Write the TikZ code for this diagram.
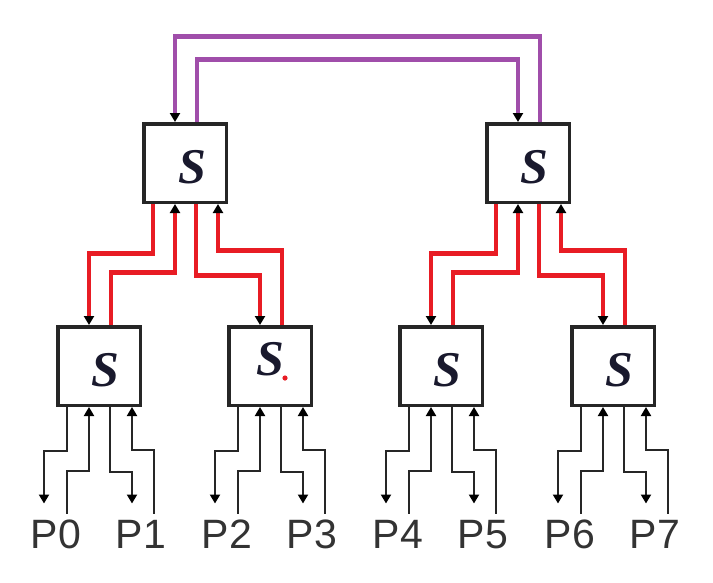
\documentclass[tikz,border=0pt]{standalone}
\usepackage{fontspec}
\setmainfont{Liberation Serif}
\newfontfamily\labelfont{Liberation Sans}
\usetikzlibrary{arrows.meta,calc}
\definecolor{wred}{RGB}{232,28,36}
\definecolor{wpurple}{RGB}{160,78,170}
\definecolor{sink}{RGB}{25,25,45}
\begin{document}
\begin{tikzpicture}[x=1pt,y=-1pt,
  sbox/.style={draw=black!85,line width=3.5pt,fill=white,minimum width=82.5pt,minimum height=78.5pt,inner sep=0pt},
  sletter/.style={font=\fontsize{50}{50}\selectfont\bfseries\itshape,text=sink,inner sep=0pt},
  plabel/.style={font=\labelfont\fontsize{41}{41}\selectfont,text=black!80,anchor=base,inner sep=0pt},
  tip/.style={-{Triangle[length=9pt,width=10pt,color=black]}},
  bwire/.style={draw=black!85,line width=2pt,line join=miter},
  rwire/.style={draw=wred,line width=4.2pt,line join=miter},
  pwire/.style={draw=wpurple,line width=4.2pt,line join=miter},
]
\useasboundingbox[fill=white] (0,0) rectangle (713,582);

% boxes
\node[sbox] (TL) at (185,163) {};
\node[sbox] (TR) at (528,163) {};
\node[sbox] (B1) at (99,366) {};
\node[sbox] (B2) at (270,366) {};
\node[sbox] (B3) at (441,366) {};
\node[sbox] (B4) at (613,366) {};

\node[sletter] (TLs) at ($(TL)+(7,4)$) {S};
\node[sletter] (TRs) at ($(TR)+(6,4)$) {S};
\node[sletter] (B1s) at ($(B1)+(6,4)$) {S};
\node[sletter] (B2s) at ($(B2)+(0,-7)$) {S};
\node[sletter] (B3s) at ($(B3)+(6,4)$) {S};
\node[sletter] (B4s) at ($(B4)+(6,4)$) {S};
\fill[wred] (285,378) circle (2.6pt);

% purple links between the top switches
\draw[pwire,tip] ($(TR.north)+(12,0)$) -- ++(0,-85.5) -| ($(TL.north)+(-10,0)$);
\draw[pwire,tip] ($(TL.north)+(12,0)$) -- ++(0,-62.5) -| ($(TR.north)+(-10,0)$);

% red links top -> bottom
\foreach \t/\l/\r in {TL/B1/B2, TR/B3/B4}{
  \draw[rwire,tip] ($(\t.south)+(-32,0)$) -- ++(0,49.5) -| ($(\l.north)+(-10,0)$);
  \draw[rwire,tip] ($(\l.north)+(12,0)$) -- ++(0,-52.5) -| ($(\t.south)+(-10,0)$);
  \draw[rwire,tip] ($(\t.south)+(11,0)$) -- ++(0,71.5) -| ($(\r.north)+(-10,0)$);
  \draw[rwire,tip] ($(\r.north)+(12,0)$) -- ++(0,-74.5) -| ($(\t.south)+(33,0)$);
}

% processors
\foreach \b/\e/\o in {B1/P0/P1, B2/P2/P3, B3/P4/P5, B4/P6/P7}{
  \coordinate (\e a) at ($(\b.south)+(-55,96.5)$);
  \coordinate (\e b) at ($(\b.south)+(-32,106.5)$);
  \coordinate (\o a) at ($(\b.south)+(33,96.5)$);
  \coordinate (\o b) at ($(\b.south)+(55,106.5)$);
  \node[plabel] (\e) at ($(\b.south)+(-43,141.5)$) {\e};
  \node[plabel] (\o) at ($(\b.south)+(42,141.5)$) {\o};
  \draw[bwire,tip] ($(\b.south)+(-32,0)$) -- ++(0,43.5) -| (\e a);
  \draw[bwire,tip] (\e b) -- ++(0,-42.5) -| ($(\b.south)+(-10,0)$);
  \draw[bwire,tip] ($(\b.south)+(11,0)$) -- ++(0,64.5) -| (\o a);
  \draw[bwire,tip] (\o b) -- ++(0,-63.5) -| ($(\b.south)+(33,0)$);
}
\end{tikzpicture}
\end{document}
